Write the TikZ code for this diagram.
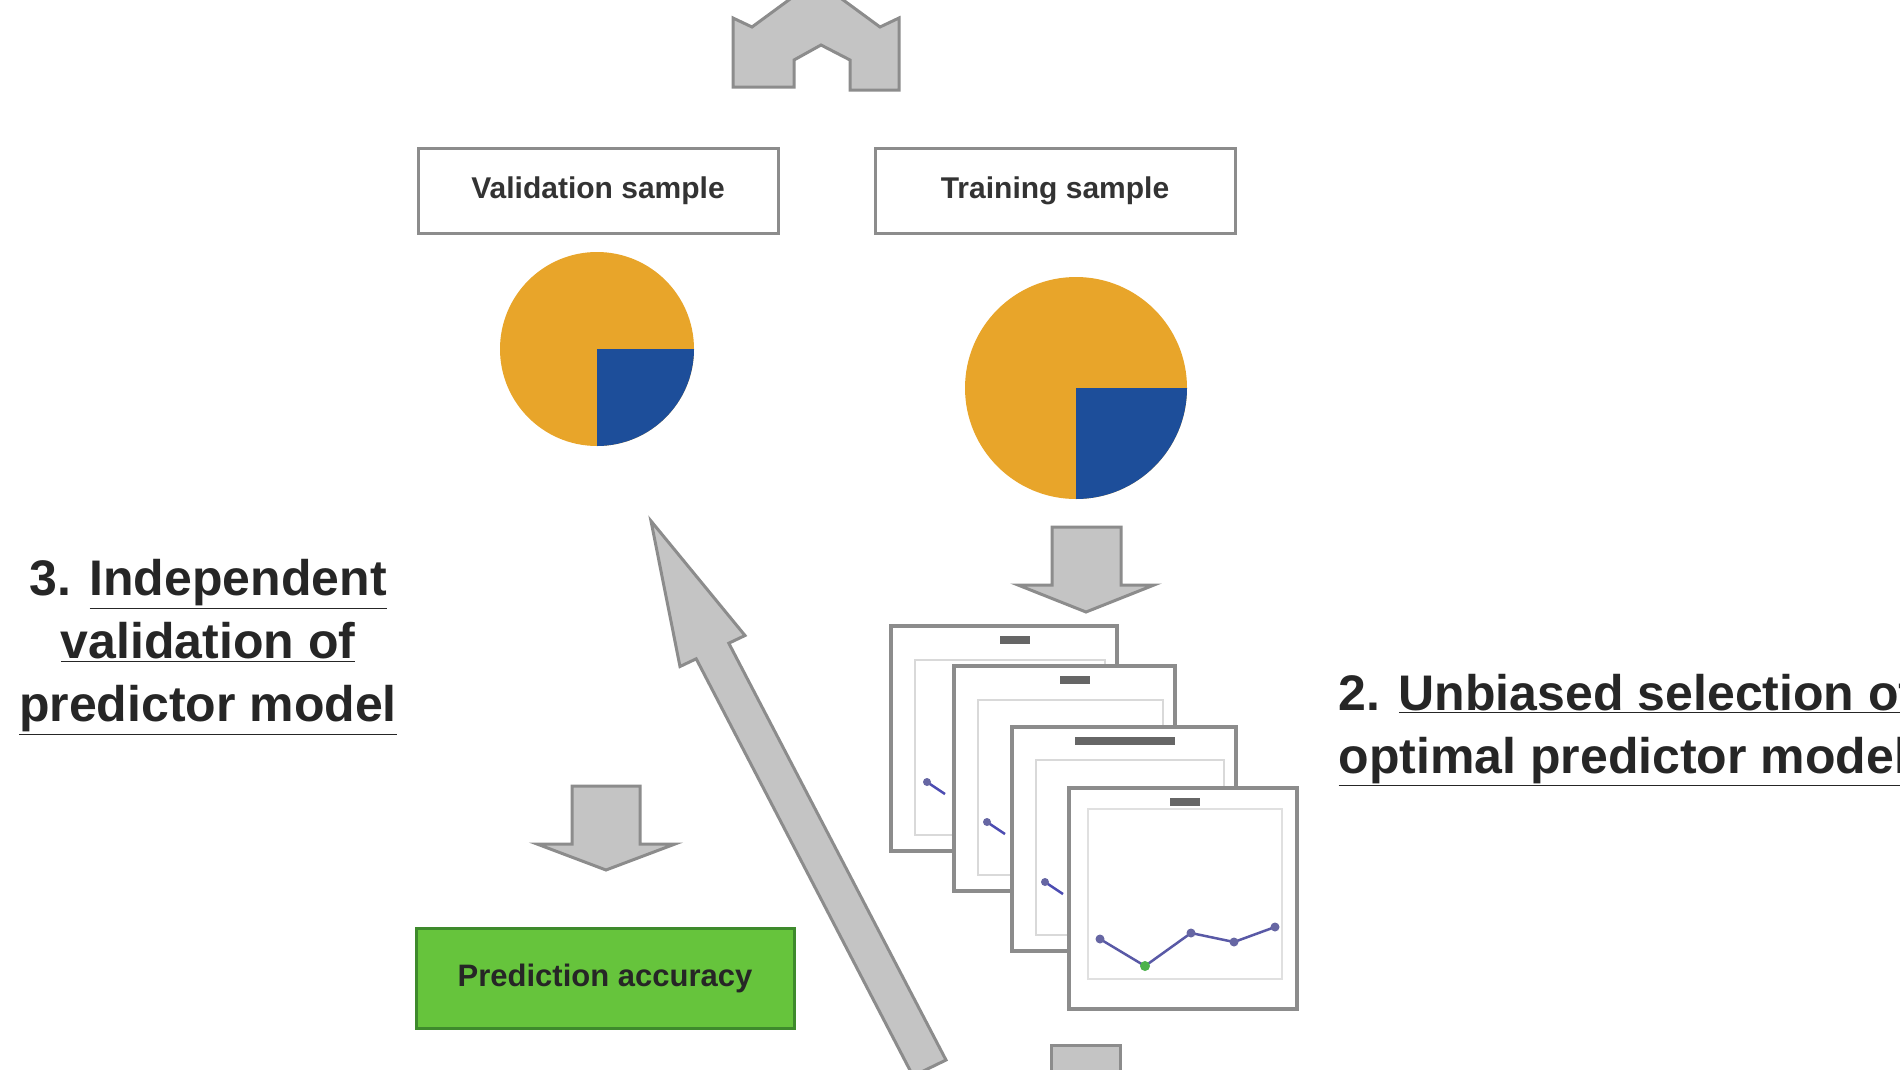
\documentclass[tikz,border=0pt]{standalone}
\usepackage{fontspec}
\setmainfont{Liberation Sans}
\definecolor{pieO}{HTML}{E8A52A}
\definecolor{pieB}{HTML}{1D4E9A}
\definecolor{arrG}{HTML}{C4C4C4}
\definecolor{arrD}{HTML}{8C8C8C}
\definecolor{boxG}{HTML}{66C43C}
\definecolor{boxGD}{HTML}{3E8A2C}
\tikzset{
 blk/.style={fill=arrG,draw=arrD,line width=3pt,line join=miter},
 sbox/.style={draw=arrD,line width=3pt,fill=white,minimum width=360pt,minimum height=85pt,font=\fontsize{30}{34}\selectfont\bfseries,text=black!80},
 frame/.style={draw=arrD,line width=3.5pt,fill=white},
 lbl/.style={font=\fontsize{50}{63}\selectfont\bfseries,text=black!85,align=center},
}
\begin{document}
\begin{tikzpicture}[x=1pt,y=-1pt]
\useasboundingbox (0,0) rectangle (1900,1069);
\clip (0,0) rectangle (1900,1069);
% top arrow
\draw[blk] (733,87)--(733,18)--(752,27)--(816,-20)--(880,27)--(899,18)--(899,90)--(850,90)--(850,60)--(821,45)--(794,60)--(794,87)--cycle;
% sample boxes
\node[sbox] (val) at (598,191) {Validation sample};
\node[sbox] (tra) at (1055,191) {Training sample};
% pies
\node[circle,fill=pieO,minimum size=194pt,inner sep=0pt] (pieV) at (597,349) {};
\fill[pieB] (597,349) -- (694,349) arc[start angle=0,end angle=-90,radius=97pt] -- cycle;
\node[circle,fill=pieO,minimum size=222pt,inner sep=0pt] (pieT) at (1076,388) {};
\fill[pieB] (1076,388) -- (1187,388) arc[start angle=0,end angle=-90,radius=111pt] -- cycle;
% right down arrow
\draw[blk] (1052,527)--(1121,527)--(1121,585)--(1154,585)--(1086,612)--(1018,585)--(1052,585)--cycle;
% charts
\draw[frame] (891,626) rectangle (1117,851);
\fill[black!60] (1000,636) rectangle (1030,644);
\draw[black!15,line width=2pt] (915,660) rectangle (1105,835);
\draw[blue!40!gray,line width=2.5pt] (927,782)--(945,794);
\fill[blue!40!black!60] (927,782) circle (4pt);
\draw[frame] (954,666) rectangle (1175,891);
\fill[black!60] (1060,676) rectangle (1090,684);
\draw[black!15,line width=2pt] (978,700) rectangle (1163,875);
\draw[blue!40!gray,line width=2.5pt] (987,822)--(1005,834);
\fill[blue!40!black!60] (987,822) circle (4pt);
\draw[frame] (1012,727) rectangle (1236,951);
\fill[black!60] (1075,737) rectangle (1175,745);
\draw[black!15,line width=2pt] (1036,760) rectangle (1224,935);
\draw[blue!40!gray,line width=2.5pt] (1045,882)--(1063,894);
\fill[blue!40!black!60] (1045,882) circle (4pt);
\draw[frame] (1069,788) rectangle (1297,1009);
\fill[black!60] (1170,798) rectangle (1200,806);
\draw[black!12,line width=2pt] (1088,809) rectangle (1282,979);
\draw[blue!30!gray,line width=2.5pt] (1100,939)--(1145,966)--(1191,933)--(1234,942)--(1275,927);
\foreach \p in {(1100,939),(1191,933),(1234,942),(1275,927)} \fill[blue!40!black!60] \p circle (4.5pt);
\fill[green!40!gray] (1145,966) circle (5pt);
% text 2
\node[lbl,anchor=west,align=left] (t2) at (1335,730) {2. \underline{Unbiased selection of}\\\underline{optimal predictor model}};
% text 3
\node[lbl] (t3) at (208,647) {3. \underline{Independent}\\\underline{validation of}\\\underline{predictor model}};
% left down arrow
\draw[blk] (572,786)--(640,786)--(640,844)--(675,844)--(606,870)--(537,844)--(572,844)--cycle;
% prediction accuracy
\node[draw=boxGD,line width=3pt,fill=boxG,minimum width=378pt,minimum height=100pt,font=\fontsize{31}{34}\selectfont\bfseries,text=black!85] (acc) at (605,978) {Prediction accuracy};
% bottom arrow
\draw[blk] (1051,1045)--(1120,1045)--(1120,1090)--(1051,1090)--cycle;
% diagonal arrow
\draw[blk] (651,521)--(745,635.5)--(728.8,643.2)--(946,1060)--(913,1076)--(696.2,658.8)--(680,666.5)--cycle;
\end{tikzpicture}
\end{document}
